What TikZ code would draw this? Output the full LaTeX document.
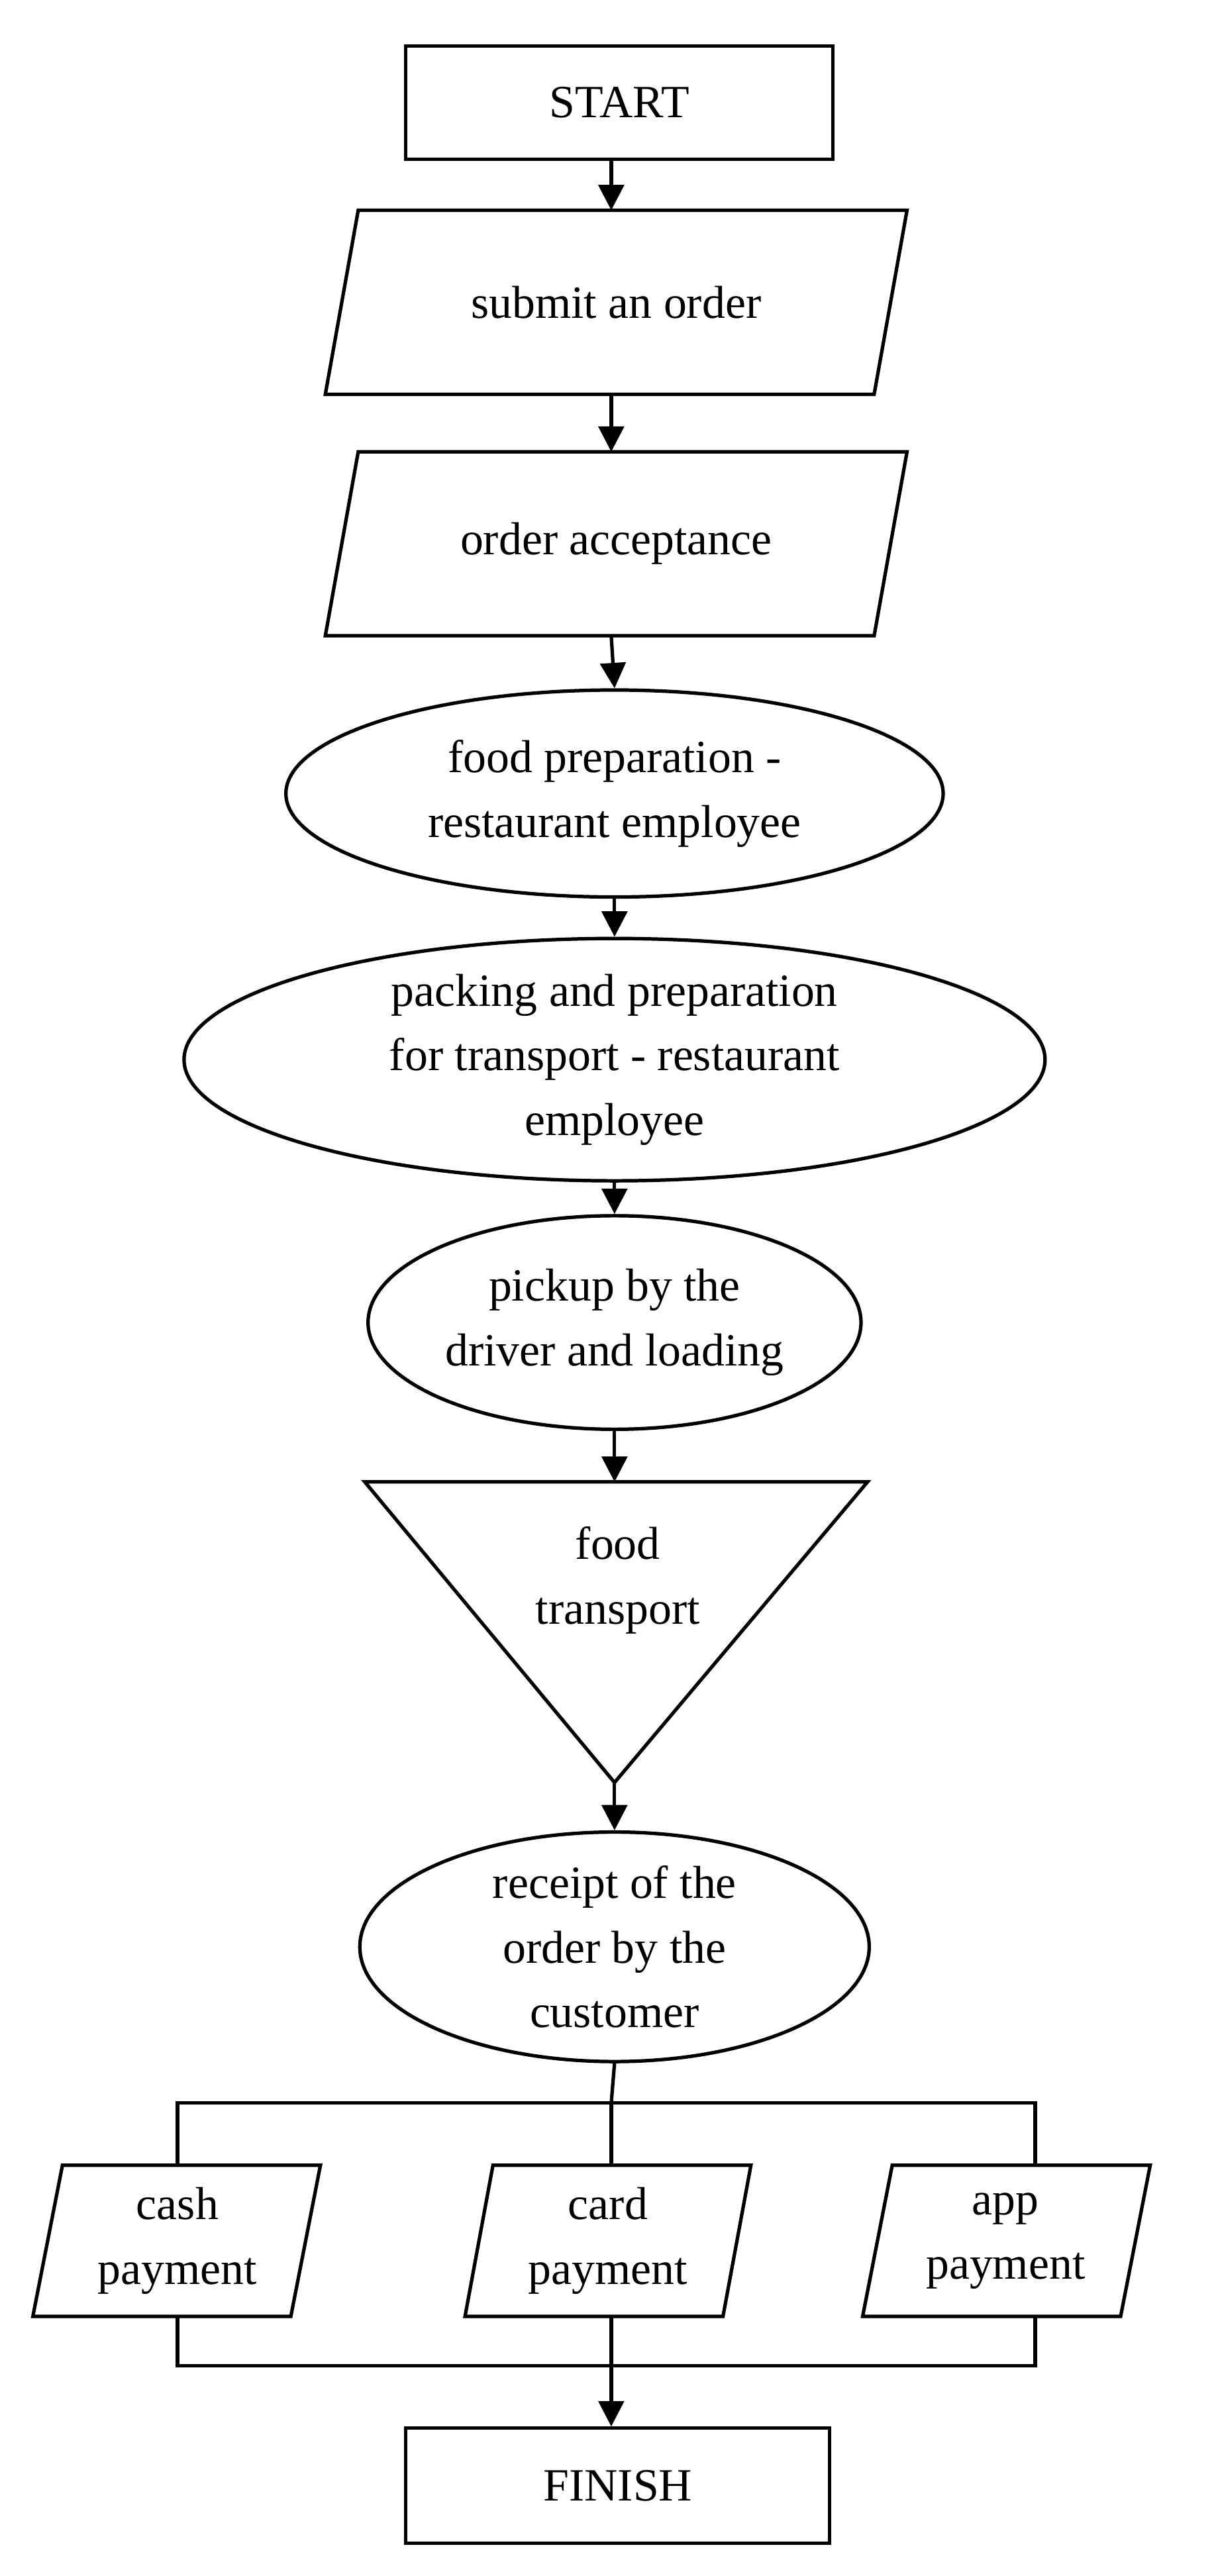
\documentclass[tikz,border=0pt]{standalone}
\usepackage{fontspec}
\setmainfont{Liberation Serif}
\usetikzlibrary{shapes.geometric,arrows.meta}
\begin{document}
\begin{tikzpicture}[x=0.05cm,y=-0.05cm,
  every node/.style={font=\fontsize{40}{56}\selectfont, align=center},
  ln/.style={line width=3pt},
  ar/.style={line width=3pt,-{Triangle[length=22pt,width=22pt]}},
  box/.style={draw,line width=3pt,rectangle,inner sep=0pt},
  ell/.style={draw,line width=3pt,ellipse,inner sep=0pt}]
\useasboundingbox (0,0) rectangle (741,1568);
\fill[white] (0,0) rectangle (741,1568);
% start
\node[box,minimum width=260*0.05cm,minimum height=69*0.05cm] (start) at (377,62.5) {START};
% submit
\draw[ln] (218,128) -- (552,128) -- (532,240) -- (198,240) -- cycle;
\node (submit) at (375,184) {submit an order};
\coordinate (submitT) at (372,128); \coordinate (submitB) at (372,240);
% acceptance
\draw[ln] (218,275) -- (552,275) -- (532,387) -- (198,387) -- cycle;
\node (accept) at (375,331) {order acceptance};
\coordinate (acceptT) at (372,275); \coordinate (acceptB) at (372,387);
% ellipses
\node[ell,minimum width=400*0.05cm,minimum height=126*0.05cm] (prep) at (374,483) {food preparation -\\restaurant employee};
\node[ell,minimum width=524*0.05cm,minimum height=134*0.05cm] (pack) at (374,645) {packing and preparation\\for transport - restaurant\\employee};
\node[ell,minimum width=300*0.05cm,minimum height=130*0.05cm] (pick) at (374,805) {pickup by the\\driver and loading};
% triangle
\draw[ln] (222,902) -- (528,902) -- (374,1085) -- cycle;
\node (trans) at (376,962) {food\\transport};
\coordinate (triT) at (374,902); \coordinate (triB) at (374,1085);
\node[ell,minimum width=310*0.05cm,minimum height=136*0.05cm] (rec) at (374,1185) {receipt of the\\order by the\\customer};
% payments
\draw[ln] (38,1318) -- (195,1318) -- (177,1410) -- (20,1410) -- cycle;
\node (cash) at (108,1364) {cash\\payment};
\draw[ln] (300,1318) -- (457,1318) -- (440,1410) -- (283,1410) -- cycle;
\node (card) at (370,1364) {card\\payment};
\draw[ln] (543,1318) -- (700,1318) -- (682,1410) -- (525,1410) -- cycle;
\node (app) at (612,1364) {app\\payment};
\coordinate (cashT) at (108,1318); \coordinate (cardT) at (372,1318); \coordinate (appT) at (630,1318);
\coordinate (cashB) at (108,1410); \coordinate (cardB) at (372,1410); \coordinate (appB) at (630,1410);
\coordinate (split) at (372,1280); \coordinate (join) at (372,1440);
\node[box,minimum width=258*0.05cm,minimum height=70*0.05cm] (fin) at (376,1513) {FINISH};
% connectors
\draw[ar] (start.south -| submitT) -- (submitT);
\draw[ar] (submitB) -- (acceptT);
\draw[ar] (acceptB) -- (prep.north);
\draw[ar] (prep.south) -- (pack.north);
\draw[ar] (pack.south) -- (pick.north);
\draw[ar] (pick.south) -- (triT);
\draw[ar] (triB) -- (rec.north);
\draw[ln] (rec.south) -- (split);
\draw[ln] (cashT) |- (split) -| (appT);
\draw[ln] (split) -- (cardT);
\draw[ln] (cashB) |- (join) -| (appB);
\draw[ln] (cardB) -- (join);
\draw[ar] (join) -- (fin.north -| join);
\end{tikzpicture}
\end{document}
